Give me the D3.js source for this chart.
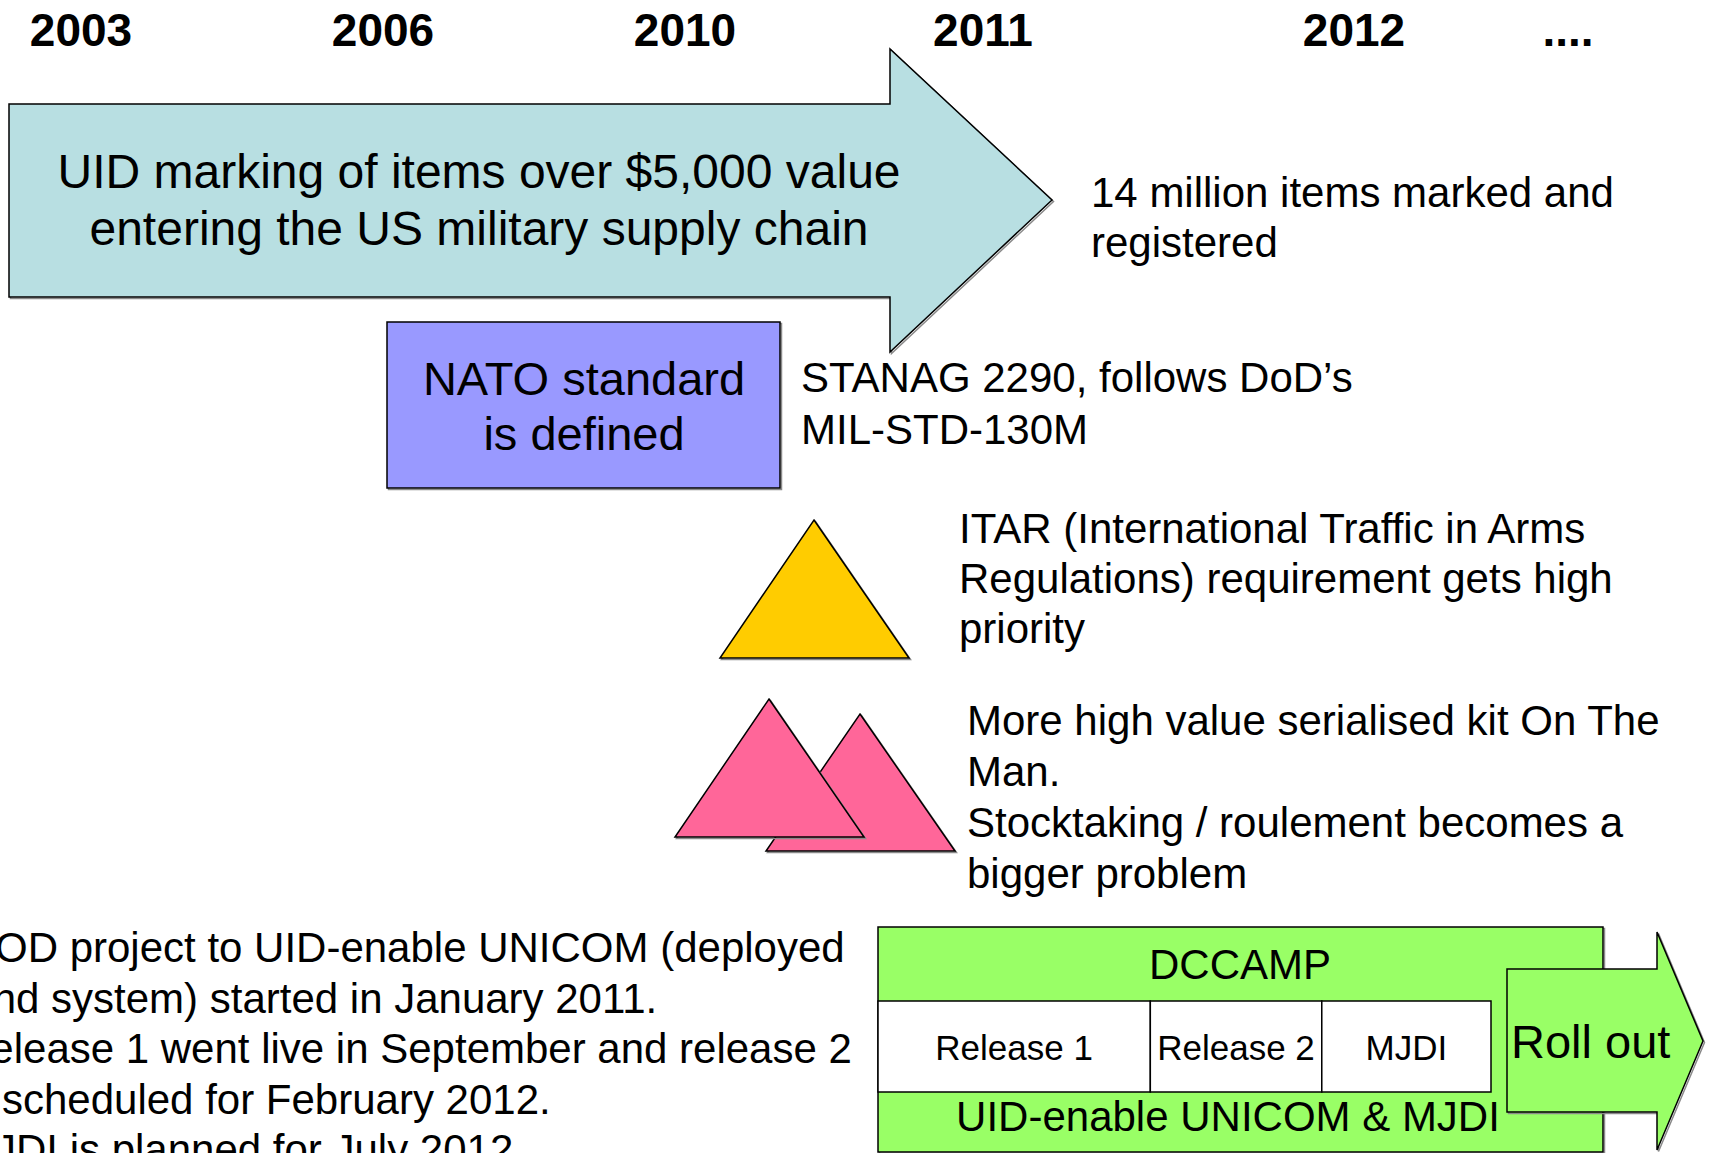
<!DOCTYPE html>
<html>
<head>
<meta charset="utf-8">
<script src="https://cdn.jsdelivr.net/npm/d3@7"></script>
<style>
  body { margin: 0; background: #fff; overflow: hidden; }
  text { font-family: "Liberation Sans", Arial, sans-serif; fill: #000; }
</style>
</head>
<body>
<div id="chart"></div>
<script>
// ---- content ----
const years = ["2003", "2006", "2010", "2011", "2012", "...."];

const uidLines = ["UID marking of items over $5,000 value", "entering the US military supply chain"];
const uidResult = ["14 million items marked and", "registered"];
const natoLines = ["NATO standard", "is defined"];
const stanagLines = ["STANAG 2290, follows DoD\u2019s", "MIL-STD-130M"];
const itarLines = ["ITAR (International Traffic in Arms", "Regulations) requirement gets high", "priority"];
const kitLines = ["More high value serialised kit On The", "Man.", "Stocktaking / roulement becomes a", "bigger problem"];
const modLines = [
  "MOD project to UID-enable UNICOM (deployed",
  "land system) started in January 2011.",
  "Release 1 went live in September and release 2",
  "is scheduled for February 2012.",
  "MJDI is planned for July 2012."
];

// release phases (start dates), programme ends July 2012
const phases = ["Release 1", "Release 2", "MJDI"];
const phaseStarts = ["2011-01-01", "2011-09-01", "2012-02-01"];
const phaseEnd = "2012-07-01";

// ---- layout ----
const width = 1709, height = 1153;

const svg = d3.select("#chart").append("svg")
  .attr("width", width)
  .attr("height", height);

const line = d3.line();

// helper: shape with a faint drop shadow, like the slide
function shape(pts, fill) {
  svg.append("path")
    .attr("d", line(pts) + "Z")
    .attr("transform", "translate(1.5,1.5)")
    .attr("fill", "none")
    .attr("stroke", "#8a8a8a")
    .attr("stroke-width", 1.5);
  return svg.append("path")
    .attr("d", line(pts) + "Z")
    .attr("fill", fill)
    .attr("stroke", "#000")
    .attr("stroke-width", 1.5);
}

function box(x, y, w, h, fill) {
  return shape([[x, y], [x + w, y], [x + w, y + h], [x, y + h]], fill);
}

// helper: multi-line text block
function textBlock(lines, x, y0, lh, size, anchor) {
  const g = svg.append("g");
  g.selectAll("text")
    .data(lines)
    .join("text")
    .attr("x", x)
    .attr("y", (d, i) => y0 + i * lh)
    .attr("font-size", size)
    .attr("text-anchor", anchor || "start")
    .text(d => d);
  return g;
}

// Year header
const yearX = d3.scaleOrdinal().domain(years).range([81, 383, 685, 983, 1354, 1568]);
svg.append("g").selectAll("text")
  .data(years)
  .join("text")
  .attr("x", d => yearX(d))
  .attr("y", 46)
  .attr("text-anchor", "middle")
  .attr("font-size", 46)
  .attr("font-weight", "bold")
  .text(d => d);

// Big UID arrow
shape([[9, 104], [890, 104], [890, 49], [1052, 200], [890, 352], [890, 297], [9, 297]], "#B8DFE2");
textBlock(uidLines, 479, 188, 57, 48, "middle");
textBlock(uidResult, 1091, 207, 50, 42);

// NATO box
box(387, 322, 393, 166, "#9999FF");
textBlock(natoLines, 584, 395, 55, 47, "middle");
textBlock(stanagLines, 801, 392, 52, 42);

// ITAR triangle
shape([[814, 520], [909, 658], [720, 658]], "#FFCC00");
textBlock(itarLines, 959, 543, 50, 42);

// Kit triangles (back, then front)
shape([[860, 714], [955, 851], [766, 851]], "#FF6699");
shape([[769, 699], [864, 837], [675, 837]], "#FF6699");
textBlock(kitLines, 967, 735, 51, 42);

// MOD notes (run off the left edge as in the slide)
textBlock(modLines, -40, 962, 50.5, 42);

// DCCAMP box
box(878, 927, 725, 225, "#99FF66");
svg.append("text")
  .attr("x", 1240).attr("y", 979)
  .attr("text-anchor", "middle")
  .attr("font-size", 42)
  .text("DCCAMP");

const parse = d3.timeParse("%Y-%m-%d");
const xTime = d3.scaleTime()
  .domain([parse(phaseStarts[0]), parse(phaseEnd)])
  .range([878, 1491]);
const phaseData = phases.map((p, i) => ({
  name: p,
  start: parse(phaseStarts[i]),
  end: parse(i + 1 < phases.length ? phaseStarts[i + 1] : phaseEnd)
}));

const cells = svg.append("g").selectAll("g")
  .data(phaseData)
  .join("g");
cells.append("rect")
  .attr("x", d => xTime(d.start))
  .attr("y", 1001)
  .attr("width", d => xTime(d.end) - xTime(d.start))
  .attr("height", 91)
  .attr("fill", "#fff")
  .attr("stroke", "#000")
  .attr("stroke-width", 1.5);
cells.append("text")
  .attr("x", d => (xTime(d.start) + xTime(d.end)) / 2)
  .attr("y", 1060)
  .attr("text-anchor", "middle")
  .attr("font-size", 35)
  .text(d => d.name);

svg.append("text")
  .attr("x", 1228).attr("y", 1131)
  .attr("text-anchor", "middle")
  .attr("font-size", 42)
  .text("UID-enable UNICOM & MJDI");

// Roll out arrow
shape([[1507, 969], [1657, 969], [1657, 932], [1703, 1041], [1657, 1150], [1657, 1112], [1507, 1112]], "#99FF66");
svg.append("text")
  .attr("x", 1511).attr("y", 1058)
  .attr("font-size", 47)
  .text("Roll out");
</script>
</body>
</html>
